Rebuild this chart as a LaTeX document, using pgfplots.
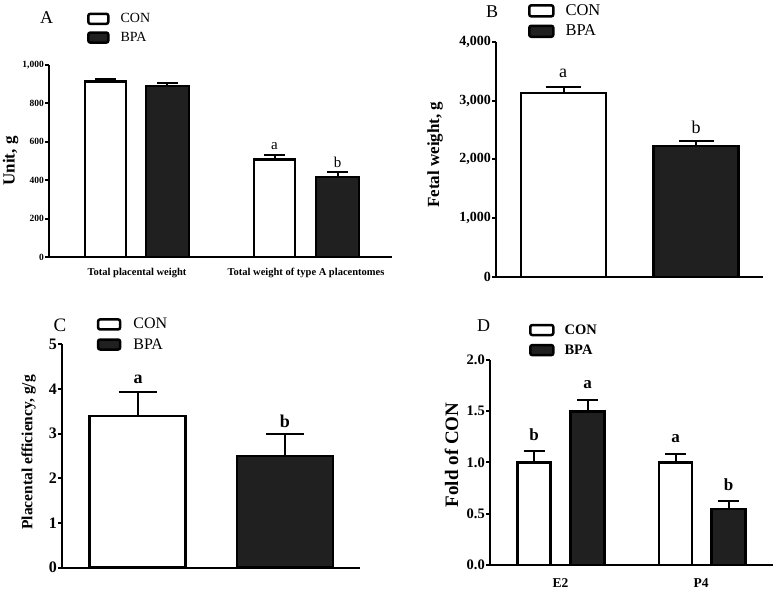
\documentclass[border=0pt]{standalone}
\usepackage{pgfplots}
\pgfplotsset{compat=1.18}
\usepackage{fontspec}
\setmainfont{Liberation Serif}
\definecolor{bpa}{RGB}{32,32,32}
\newcommand{\fs}[1]{\fontsize{#1}{#1}\selectfont}
\pgfplotsset{
 gp/.style={
   scale only axis, axis lines=left, axis line style={-, line width=2pt, black},
   x axis line style={-}, y axis line style={-},
   enlargelimits=false, clip=false, ymin=0,
   tick align=outside, tick pos=left,
   major tick length=4pt,
   ytick style={line width=2pt, black},
   xtick style={draw=none},
   yticklabel style={inner sep=1pt},
   legend cell align=left,
   legend style={draw=none, fill=none, inner sep=0pt, outer sep=0pt, anchor=north west},
 },
 conbar/.style={ybar, bar shift=0pt, draw=black, fill=white, line width=2.5pt},
 bpabar/.style={ybar, bar shift=0pt, draw=black, fill=bpa, line width=2.5pt},
}
\begin{document}
\begin{tikzpicture}
\path[use as bounding box] (0,0) rectangle (777pt,592pt);
% ---------- Panel A
\begin{axis}[gp, at={(49pt,335pt)}, anchor=south west, width=343pt, height=192pt,
  xmin=49, xmax=392, ymax=1000,
  ytick={0,200,400,600,800,1000}, yticklabels={0,200,400,600,800,{1,000}},
  yticklabel style={font=\fs{9.5}\bfseries},
  xtick={137,306}, xticklabels={Total placental weight, Total weight of type A placentomes},
  xticklabel style={font=\fs{10.5}\bfseries, anchor=north, inner sep=0pt, yshift=-7pt},
  ylabel={Unit, g}, ylabel style={font=\fs{17}\bfseries, at={(axis description cs:-0.112,0.5)}, anchor=center},
  legend style={at={(axis description cs:0.111,1.279)}, font=\fs{14}, row sep=4pt, column sep=9pt},
  legend image code/.code={\draw[#1, line width=2.5pt, rounded corners=2pt] (0pt,-5pt) rectangle (20pt,5pt);}]
\addplot[conbar, bar width=41, error bars/.cd, y dir=plus, y explicit, error bar style={line width=2pt, black}, error mark options={rotate=90, line width=2pt, mark size=10.5pt, black}]
  coordinates {(105.5,913) +- (0,14) (274.5,509) +- (0,24)};
\addlegendentry{CON}
\addplot[bpabar, bar width=43, error bars/.cd, y dir=plus, y explicit, error bar style={line width=2pt, black}, error mark options={rotate=90, line width=2pt, mark size=10.5pt, black}]
  coordinates {(167.5,890) +- (0,14) (337.5,417) +- (0,24)};
\addlegendentry{BPA}
\node[font=\fs{15}] at (axis cs:274.5,578) {a};
\node[font=\fs{15}] at (axis cs:337.5,495) {b};
\end{axis}
\node[font=\fs{18}] at (46.5pt,574.5pt) {A};
% ---------- Panel B
\begin{axis}[gp, at={(496pt,315pt)}, anchor=south west, width=267pt, height=235.3pt,
  xmin=496, xmax=763, ymax=4000,
  ytick={0,1000,2000,3000,4000}, yticklabels={0,{1,000},{2,000},{3,000},{4,000}},
  yticklabel style={font=\fs{14}\bfseries},
  xtick=\empty,
  ylabel={Fetal weight, g}, ylabel style={font=\fs{17}\bfseries, at={(axis description cs:-0.228,0.52)}, anchor=center},
  legend style={at={(axis description cs:0.120,1.166)}, font=\fs{16.5}, row sep=4pt, column sep=9pt},
  legend image code/.code={\draw[#1, line width=2.5pt, rounded corners=2pt] (0pt,-5.5pt) rectangle (24pt,5.5pt);}]
\addplot[conbar, bar width=85, error bars/.cd, y dir=plus, y explicit, error bar style={line width=2pt, black}, error mark options={rotate=90, line width=2pt, mark size=17.5pt, black}]
  coordinates {(563.5,3128) +- (0,102)};
\addlegendentry{CON}
\addplot[bpabar, bar width=85, error bars/.cd, y dir=plus, y explicit, error bar style={line width=2pt, black}, error mark options={rotate=90, line width=2pt, mark size=17.5pt, black}]
  coordinates {(696,2227) +- (0,85)};
\addlegendentry{BPA}
\node[font=\fs{18}] at (axis cs:563,3468) {a};
\node[font=\fs{18}] at (axis cs:696,2550) {b};
\end{axis}
\node[font=\fs{18}] at (492pt,580pt) {B};
% ---------- Panel C
\begin{axis}[gp, at={(62pt,24.3pt)}, anchor=south west, width=298pt, height=223.4pt,
  xmin=62, xmax=360, ymax=5,
  ytick={0,1,2,3,4,5}, yticklabels={0,1,2,3,4,5},
  yticklabel style={font=\fs{16}\bfseries},
  xtick=\empty,
  ylabel={Placental efficiency, g/g}, ylabel style={font=\fs{15.5}\bfseries, at={(axis description cs:-0.112,0.516)}, anchor=center},
  legend style={at={(axis description cs:0.117,1.125)}, font=\fs{16}, row sep=4pt, column sep=10pt},
  legend image code/.code={\draw[#1, line width=2.5pt, rounded corners=2pt] (0pt,-5pt) rectangle (22pt,5pt);}]
\addplot[conbar, bar width=96, error bars/.cd, y dir=plus, y explicit, error bar style={line width=2pt, black}, error mark options={rotate=90, line width=2pt, mark size=19pt, black}]
  coordinates {(137.5,3.40) +- (0,0.54)};
\addlegendentry{CON}
\addplot[bpabar, bar width=96, error bars/.cd, y dir=plus, y explicit, error bar style={line width=2pt, black}, error mark options={rotate=90, line width=2pt, mark size=19pt, black}]
  coordinates {(285,2.50) +- (0,0.49)};
\addlegendentry{BPA}
\node[font=\fs{18}\bfseries] at (axis cs:138,4.22) {a};
\node[font=\fs{18}\bfseries] at (axis cs:285,3.28) {b};
\end{axis}
\node[font=\fs{19}] at (60pt,267pt) {C};
% ---------- Panel D
\begin{axis}[gp, at={(490pt,27pt)}, anchor=south west, width=283pt, height=205pt,
  xmin=490, xmax=773, ymax=2,
  ytick={0,0.5,1,1.5,2}, yticklabels={0.0,0.5,1.0,1.5,2.0},
  yticklabel style={font=\fs{14.5}\bfseries},
  xtick={560.5,701}, xticklabels={E2,P4},
  xticklabel style={font=\fs{13.5}\bfseries, anchor=north, inner sep=0pt, yshift=-9pt},
  ylabel={Fold of CON}, ylabel style={font=\fs{19}\bfseries, at={(axis description cs:-0.136,0.537)}, anchor=center},
  legend style={at={(axis description cs:0.138,1.183)}, font=\fs{14.5}\bfseries, row sep=5pt, column sep=8pt},
  legend image code/.code={\draw[#1, line width=2.5pt, rounded corners=2pt] (0pt,-5pt) rectangle (23pt,5pt);}]
\addplot[conbar, bar width=33, error bars/.cd, y dir=plus, y explicit, error bar style={line width=2pt, black}, error mark options={rotate=90, line width=2pt, mark size=10.5pt, black}]
  coordinates {(534,1.00) +- (0,0.115) (675.5,1.00) +- (0,0.08)};
\addlegendentry{CON}
\addplot[bpabar, bar width=34, error bars/.cd, y dir=plus, y explicit, error bar style={line width=2pt, black}, error mark options={rotate=90, line width=2pt, mark size=10.5pt, black}]
  coordinates {(587.5,1.496) +- (0,0.114) (728.5,0.546) +- (0,0.074)};
\addlegendentry{BPA}
\node[font=\fs{17}\bfseries] at (axis cs:534,1.27) {b};
\node[font=\fs{17}\bfseries] at (axis cs:587.5,1.76) {a};
\node[font=\fs{17}\bfseries] at (axis cs:675.5,1.23) {a};
\node[font=\fs{17}\bfseries] at (axis cs:728.5,0.78) {b};
\end{axis}
\node[font=\fs{18}] at (483.5pt,266pt) {D};
\end{tikzpicture}
\end{document}
